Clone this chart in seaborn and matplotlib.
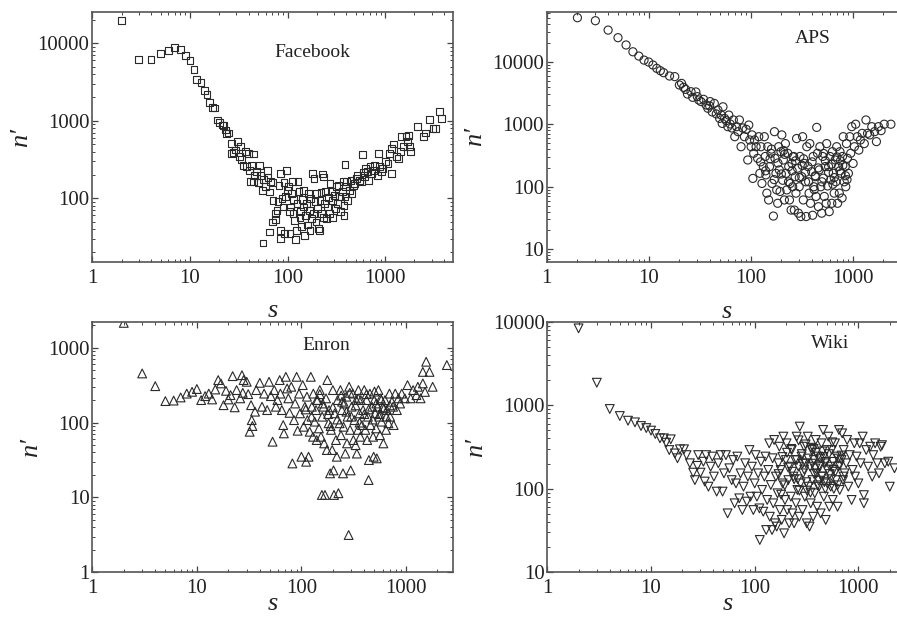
import numpy as np
import matplotlib
matplotlib.use("Agg")
import matplotlib.pyplot as plt
import seaborn as sns
from matplotlib.ticker import LogLocator, FuncFormatter, NullFormatter

# Facebook (squares)
fb_s = [2, 3, 4, 5, 6, 7, 8, 9, 10, 11, 11.7, 13, 14, 15, 16, 17, 18, 19, 20, 21.6, 22, 23, 23.7, 25,
        26.7, 26.7, 28, 29.6, 30.7, 32, 33, 34, 35, 37, 38, 40, 41, 43, 44.6, 42, 44.6, 46, 48, 50, 52,
        53, 55, 57, 60, 56, 62, 63, 66, 67, 70, 71, 66, 70, 75, 76, 78, 80, 82, 84, 84, 85, 88, 90, 92,
        94, 96, 98, 100, 102, 104, 106, 107, 110, 112, 114, 116, 118, 120, 123, 125, 128, 131, 134, 136,
        139, 142, 145, 147, 150, 154, 156, 159, 163, 167, 170, 172, 177, 181, 184, 187, 191, 196, 199,
        202, 207, 211, 215, 220, 225, 228, 232, 236, 240, 246, 250, 255, 261, 268, 273, 280, 287, 290,
        304, 310, 320, 328, 336, 343, 351, 366, 372, 380, 388, 388, 380, 396, 405, 415, 432, 447, 457,
        474, 490, 505, 525, 550, 570, 585, 605, 620, 635, 655, 675, 700, 725, 755, 780, 830, 850, 880,
        920, 940, 1000, 1070, 1110, 1160, 1160, 1210, 1300, 1380, 1430, 1470, 1540, 1640, 1700, 1750,
        1790, 1830, 2160, 2460, 2570, 2840, 3100, 3300, 3590, 3750]
fb_n = [19600, 6100, 6200, 7430, 7960, 8790, 8350, 7000, 5920, 4610, 3420, 3100, 2440, 2190, 1710, 1490,
        1460, 1020, 942, 879, 857, 757, 686, 694, 509, 378, 385, 418, 535, 342, 461, 316, 267, 397, 254,
        378, 230, 267, 371, 163, 163, 198, 219, 158, 267, 198, 127, 174, 140, 26.4, 230, 183, 120, 163,
        158, 94, 36.7, 49.4, 63, 53, 70, 90, 147, 208, 38.6, 30, 99, 77, 158, 35, 104, 230, 127, 140, 67,
        35, 77, 115, 163, 63, 96, 52, 29.2, 38.6, 85, 163, 121, 57, 67, 43, 96, 127, 77, 33, 60, 85, 45,
        115, 70, 38.6, 99, 55, 208, 63, 180, 90, 49.4, 115, 74, 40.5, 38.6, 94, 117, 63, 205, 57, 188,
        85, 121, 55, 77, 101, 63, 155, 121, 57, 94, 109, 74, 140, 85, 147, 104, 67, 121, 163, 81, 106,
        275, 60, 140, 163, 94, 127, 170, 115, 147, 155, 180, 198, 170, 163, 367, 213, 188, 242, 219, 170,
        254, 208, 230, 267, 198, 378, 254, 219, 242, 295, 281, 378, 208, 439, 499, 342, 325, 396, 621,
        461, 621, 534, 646, 461, 405, 835, 631, 694, 1040, 793, 793, 1300, 1070]

# APS (circles)
aps_s = [2, 3, 4, 5, 6, 7, 8, 9, 10, 11, 12, 13, 14, 16, 18, 20, 21, 22, 23, 24, 26, 27, 29, 30, 31,
         32.6, 34.5, 36.6, 38, 39.6, 40, 42, 44, 46, 47.7, 49.6, 51.6, 52.6, 53.5, 55.5, 57.6, 59.7, 61,
         62.9, 65.5, 67.6, 69.8, 72.8, 75.2, 77.5, 80.5, 83.6, 86.8, 90.3, 93.6, 95.8, 97.8, 101, 103,
         105, 107, 109, 113, 117, 120, 123, 126, 129, 133, 136, 139, 141, 144, 147, 150, 153, 158, 162,
         167, 171, 173, 177, 180, 184, 188, 191, 194, 198, 202, 206, 209, 214, 219, 222, 226, 231, 236,
         240, 244, 249, 254, 258, 264, 268, 273, 278, 282, 288, 294, 299, 304, 310, 317, 323, 328, 337,
         345, 350, 355, 365, 374, 380, 386, 397, 405, 410, 416, 444, 431, 437, 452, 462, 470, 477, 486,
         497, 508, 516, 527, 539, 550, 556, 568, 581, 589, 599, 610, 624, 633, 645, 659, 674, 684, 697,
         712, 728, 740, 751, 770, 787, 795, 808, 826, 845, 856, 870, 888, 908, 937, 957, 980, 1010, 1040,
         1070, 1110, 1150, 1190, 1240, 1300, 1350, 1400, 1470, 1540, 1640, 1710, 1790, 1900, 2040, 2370,
         125, 140, 155, 170, 185, 200, 215, 235, 255, 275, 300, 320, 345, 370, 400, 430, 460, 500, 540,
         580, 620, 660, 700, 750, 800, 850, 160, 210, 260, 330, 420, 520, 640, 760, 880]
aps_n = [50500, 45200, 32000, 24200, 18500, 14400, 12300, 10600, 9880, 8850, 7820, 7180, 6670, 5900,
         5770, 4240, 4500, 3890, 3610, 3040, 3310, 2690, 3280, 2760, 2440, 2300, 2500, 2030, 1800, 1960,
         2300, 1570, 2150, 1460, 1690, 1240, 1400, 1030, 1900, 1240, 1140, 914, 1400, 1010, 870, 1170,
         632, 914, 760, 1170, 437, 870, 632, 830, 268, 970, 560, 437, 675, 136, 343, 560, 437, 285, 632,
         164, 437, 113, 210, 632, 305, 155, 79, 437, 61.5, 210, 343, 113, 34, 760, 285, 164, 89, 54.4,
         437, 186, 84, 364, 675, 127, 268, 61.5, 490, 164, 89, 343, 210, 61.5, 113, 42.4, 236, 100, 305,
         42.4, 145, 79, 590, 198, 37.8, 100, 305, 33.4, 145, 632, 61.5, 236, 120, 33.4, 437, 210, 79,
         490, 54.4, 174, 35, 305, 100, 890, 145, 70, 343, 48, 186, 437, 100, 37.8, 305, 137, 70, 210,
         54.4, 490, 103, 210, 40, 305, 129, 54.4, 364, 164, 79, 268, 120, 437, 54.4, 210, 79, 364, 164,
         66, 305, 632, 120, 210, 100, 490, 285, 164, 632, 343, 914, 236, 437, 1000, 632, 386, 560, 714,
         490, 1170, 714, 675, 914, 760, 527, 914, 790, 1000, 1000,
         250, 180, 280, 130, 240, 160, 330, 120, 180, 260, 140, 220, 170, 120, 250, 150, 200, 120, 260,
         170, 230, 140, 300, 180, 220, 150, 400, 380, 300, 280, 90, 340, 110, 260, 130]

# Enron (triangles up)
en_s = [2, 3, 4, 5, 6, 7, 8, 9, 10, 11, 12, 13, 14, 15, 16, 17, 18, 19, 20, 21, 22, 23, 24, 26, 27,
        27.5, 28, 30, 31, 32, 33, 33.5, 34, 36, 37, 40, 42, 44, 47, 49, 51, 53, 55, 57, 59, 62, 63, 65,
        67, 68, 71, 73, 75, 77, 80, 82, 85, 87, 90, 92, 95, 97, 100, 103, 105, 108, 111, 113, 114, 117,
        120, 123, 126, 129, 130, 134, 138, 140, 143, 147, 150, 154, 157, 158, 163, 165, 168, 172, 175,
        177, 182, 184, 188, 192, 197, 200, 203, 205, 208, 214, 218, 222, 226, 232, 236, 239, 244, 250,
        253, 257, 263, 269, 273, 276, 283, 286, 292, 296, 302, 310, 314, 322, 330, 334, 339, 347, 351,
        360, 366, 370, 379, 389, 399, 409, 420, 426, 433, 439, 442, 452, 458, 475, 485, 491, 497, 508,
        518, 526, 534, 545, 556, 564, 573, 585, 608, 617, 630, 645, 655, 680, 695, 706, 734, 753, 763,
        790, 819, 848, 880, 911, 976, 1035, 1110, 1170, 1260, 1380, 1300, 1450, 1520, 1450, 1560, 1680,
        1800, 2460,
        110, 125, 140, 160, 180, 200, 220, 245, 270, 300, 330, 360, 400, 440, 480, 520, 560, 600, 650,
        700, 150, 190, 240, 290, 350, 420, 500, 580]
en_n = [2150, 454, 307, 194, 197, 217, 244, 258, 281, 200, 226, 244, 204, 277, 370, 334, 171, 266, 204,
        233, 418, 160, 272, 211, 430, 250, 370, 351, 240, 75.5, 171, 108, 90, 140, 272, 340, 163, 244,
        147, 351, 226, 55.6, 272, 163, 200, 370, 244, 147, 92.7, 71.8, 409, 286, 211, 135, 301, 28.5,
        108, 180, 409, 77.9, 244, 133, 35, 317, 88, 163, 30, 222, 108, 35, 75.5, 409, 163, 64.7, 244,
        103, 147, 58.5, 200, 83.7, 272, 64.7, 10.8, 120, 163, 52.8, 10.8, 211, 43, 370, 98, 147, 21, 80,
        43, 272, 23, 10.8, 133, 58.5, 35, 200, 11.4, 98, 272, 68, 147, 21, 88, 180, 38.6, 222, 52.8, 120,
        3.15, 301, 80, 23, 163, 244, 58.5, 108, 50, 200, 38.6, 80, 272, 133, 64.7, 200, 92.7, 147, 272,
        80, 200, 58.5, 120, 17.1, 31.6, 244, 92.7, 163, 64.7, 35, 200, 133, 83.7, 33.3, 163, 272, 120,
        68, 211, 103, 52.8, 155, 200, 80, 147, 98, 244, 120, 190, 163, 92.7, 244, 147, 211, 180, 244, 211,
        317, 211, 272, 233, 211, 301, 334, 257, 476, 650, 476, 301, 587,
        150, 120, 200, 180, 130, 160, 110, 190, 140, 120, 170, 100, 130, 150, 110, 180, 130, 160, 120,
        170, 240, 90, 230, 250, 210, 240, 260, 200]

# Wiki (triangles down)
wk_s = [2, 3, 4, 5, 6, 7, 8, 9, 10, 11, 12.2, 13.3, 14, 15.5, 15, 17, 18, 19, 20.8, 22, 23.7, 25.5,
        26.5, 28, 28.5, 30, 32, 33, 34, 35.8, 37.6, 39, 40.4, 43, 44.6, 47, 49, 50.5, 52.8, 54.8, 57, 60,
        62, 64, 66, 68, 71, 73, 76, 78, 81, 84, 86, 89, 91, 94, 97, 100, 102, 105, 108, 111, 112, 115,
        118, 121, 124, 127, 129, 132, 135, 138, 140, 143, 147, 149, 151, 154, 157, 160, 163, 166, 169,
        173, 175, 178, 182, 186, 189, 192, 196, 200, 203, 206, 211, 215, 219, 223, 228, 231, 236, 240,
        245, 250, 254, 258, 264, 269, 272, 277, 283, 289, 293, 300, 304, 311, 318, 325, 330, 338, 342,
        347, 355, 361, 366, 372, 380, 388, 394, 400, 408, 417, 424, 433, 440, 449, 457, 464, 474, 484,
        494, 502, 513, 524, 534, 541, 554, 566, 574, 595, 610, 618, 630, 641, 650, 661, 687, 698, 712,
        721, 736, 764, 779, 800, 826, 860, 880, 914, 928, 960, 1000, 1030, 1050, 1100, 1130, 1130, 1190,
        1240, 1300, 1360, 1390, 1450, 1520, 1580, 1640, 1690, 1800, 1940, 2010, 2230,
        170, 185, 195, 210, 225, 240, 255, 270, 285, 300, 315, 330, 345, 360, 375, 390, 405, 420, 440,
        460, 480, 500, 520, 545, 570, 600, 630, 660, 690, 720, 180, 205, 230, 260, 290, 320, 350, 385,
        415, 450, 490, 530, 580, 640, 265, 310, 370, 430, 470, 560]
wk_n = [8320, 1860, 902, 743, 653, 624, 564, 533, 497, 453, 402, 402, 356, 391, 291, 265, 232, 297, 297,
        253, 202, 156, 127, 188, 253, 156, 211, 122, 253, 106, 184, 243, 140, 92.5, 202, 253, 92.5, 153,
        253, 50.8, 176, 127, 221, 67, 116, 243, 76.9, 153, 55.7, 106, 202, 70.2, 140, 291, 80.5, 184,
        55.7, 116, 253, 80.5, 153, 58.3, 24.4, 211, 96.9, 53.2, 140, 243, 32.1, 73.5, 168, 350, 46.3, 111,
        32.1, 232, 67, 384, 38.6, 140, 35.3, 88.3, 202, 319, 55.7, 168, 42.4, 116, 421, 29.3, 73.5, 221,
        350, 55.7, 127, 38.6, 184, 80.5, 291, 50.8, 140, 38.6, 221, 67, 421, 96.9, 184, 46.3, 555, 116,
        243, 55.7, 153, 319, 80.5, 202, 38.6, 421, 106, 35.3, 184, 67, 291, 127, 46.3, 221, 88.3, 384,
        153, 61, 243, 106, 184, 50.8, 350, 140, 506, 80.5, 202, 42.4, 291, 116, 421, 61, 184, 106, 291,
        73.5, 168, 350, 127, 243, 61, 184, 506, 96.9, 221, 461, 127, 291, 153, 202, 384, 106, 253, 73.5,
        168, 350, 140, 243, 116, 350, 202, 421, 84, 67, 291, 184, 319, 140, 253, 350, 202, 153, 319, 333,
        202, 211, 106, 176,
        150, 240, 110, 180, 300, 130, 220, 95, 260, 170, 120, 230, 90, 200, 150, 270, 110, 190, 140, 240,
        100, 170, 260, 130, 210, 160, 110, 190, 250, 140, 85, 270, 160, 130, 200, 95, 310, 175, 125, 280,
        210, 150, 100, 230, 380, 340, 300, 230, 120, 360]

panels = [
    ("Facebook", fb_s, fb_n, "s", 24, (1, 4960), (15, 25000), (0.609, 0.84), 9),
    ("APS", aps_s, aps_n, "o", 34, (1, 3470), (6.2, 63000), (0.737, 0.894), 9),
    ("Enron", en_s, en_n, "^", 40, (1, 2800), (1, 2230), (0.648, 0.907), -4),
    ("Wiki", wk_s, wk_n, "v", 40, (1, 2995), (10, 10000), (0.785, 0.914), -4),
]
positions = [
    [0.1029, 0.5767, 0.4021, 0.4033],
    [0.6095, 0.5763, 0.4025, 0.4048],
    [0.1029, 0.0754, 0.4018, 0.4049],
    [0.6102, 0.0754, 0.4018, 0.4049],
]

sns.set_style("ticks")
plt.rcParams["font.family"] = ["Liberation Serif", "DejaVu Serif"]

fig = plt.figure(figsize=(8.97, 6.19), dpi=100)

for (name, xs, ys, mk, sz, xl, yl, tpos, xpad), pos in zip(panels, positions):
    ax = fig.add_axes(pos)
    sns.scatterplot(x=xs, y=ys, marker=mk, s=sz, facecolors="none", edgecolor="#2a2a2a",
                    linewidth=0.8, ax=ax, legend=False)
    ax.set_xscale("log")
    ax.set_yscale("log")
    ax.set_xlim(*xl)
    ax.set_ylim(*yl)
    fmt = FuncFormatter(lambda v, p: f"{int(round(v))}")
    ax.xaxis.set_major_locator(LogLocator(base=10, numticks=10))
    ax.yaxis.set_major_locator(LogLocator(base=10, numticks=10))
    ax.xaxis.set_minor_locator(LogLocator(base=10, subs=np.arange(2, 10), numticks=20))
    ax.yaxis.set_minor_locator(LogLocator(base=10, subs=np.arange(2, 10), numticks=20))
    ax.xaxis.set_major_formatter(fmt)
    ax.yaxis.set_major_formatter(fmt)
    ax.xaxis.set_minor_formatter(NullFormatter())
    ax.yaxis.set_minor_formatter(NullFormatter())
    ax.tick_params(which="both", direction="in", top=True, right=True, colors="#444444",
                   labelcolor="#222222", labelsize=15)
    ax.tick_params(axis="x", pad=5)
    ax.tick_params(axis="y", pad=2)
    ax.tick_params(which="major", length=4, width=0.9)
    ax.tick_params(which="minor", length=2.5, width=0.7)
    for sp in ax.spines.values():
        sp.set_color("#555555")
        sp.set_linewidth(1.2)
    ax.set_xlabel("s", fontsize=19, style="italic", labelpad=xpad, color="#222222")
    ax.set_ylabel("n\u2032", fontsize=19, style="italic", labelpad=4, color="#222222")
    ax.text(tpos[0], tpos[1], name, transform=ax.transAxes, ha="center", va="center",
            fontsize=14, color="#222222")

fig.savefig("out.png", dpi=100)
